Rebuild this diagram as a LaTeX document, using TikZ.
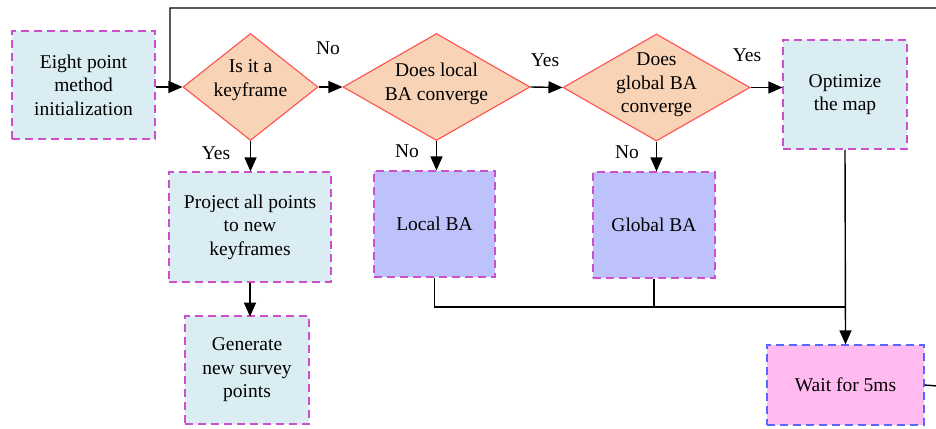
\documentclass[tikz,border=0pt]{standalone}
\usepackage{fontspec}
\setmainfont{Liberation Serif}
\usetikzlibrary{shapes.geometric,arrows.meta}
\definecolor{boxfill}{HTML}{DAEDF3}
\definecolor{magdash}{HTML}{CC4FCC}
\definecolor{diafill}{HTML}{F9D3B5}
\definecolor{diadraw}{HTML}{FF5050}
\definecolor{lavfill}{HTML}{BDC2FA}
\definecolor{pinkfill}{HTML}{FFBBF0}
\definecolor{bluedash}{HTML}{5868FF}
\begin{document}
\begin{tikzpicture}[x=1pt,y=-1pt,
  font=\fontsize{19.5}{23.5}\selectfont,
  box/.style={rectangle, draw=magdash, fill=boxfill, line width=1.2pt, dash pattern=on 8pt off 5pt, inner sep=0pt, align=center},
  bafill/.style={box, fill=lavfill},
  waitbox/.style={box, fill=pinkfill, draw=bluedash},
  dia/.style={diamond, draw=diadraw, fill=diafill, line width=1.1pt, inner sep=0pt},
  conn/.style={line width=1.4pt, black},
  arr/.style={conn, -{Triangle[length=14pt,width=12pt]}},
  lbl/.style={inner sep=0pt}
]
\useasboundingbox (0,0) rectangle (936,428);
\clip (0,0) rectangle (936,428);

% boxes
\node[box, minimum width=143, minimum height=108] (init) at (83.5,85) {Eight point\\method\\initialization};
\node[box, minimum width=162, minimum height=110] (proj) at (250,227) {Project all points\\to new\\keyframes};
\node[box, minimum width=124, minimum height=108] (gen) at (247,370) {Generate\\new survey\\points};
\node[bafill, minimum width=121, minimum height=106] (lba) at (434.5,224) {Local BA};
\node[bafill, minimum width=122, minimum height=106] (gba) at (654,225) {Global BA};
\node[box, minimum width=124, minimum height=109] (opt) at (845,94.5) {Optimize\\the map};
\node[waitbox, minimum width=157, minimum height=80] (wait) at (845.5,385) {Wait for 5ms};

% diamonds
\node[dia, minimum width=135, minimum height=107] (d1) at (250.5,87) {};
\node[align=center, inner sep=0pt] (d1t) at (250.5,80) {Is it a\\keyframe};
\node[dia, minimum width=187, minimum height=107] (d2) at (436.5,87) {};
\node[align=center, inner sep=0pt] (d2t) at (436.5,84) {Does local\\BA converge};
\node[dia, minimum width=187, minimum height=107] (d3) at (656.5,87.5) {};
\node[align=center, inner sep=0pt] (d3t) at (656.5,85) {Does\\global BA\\converge};

% labels
\node[lbl] (l1) at (328,48) {No};
\node[lbl] (l2) at (545,60) {Yes};
\node[lbl] (l3) at (747,55) {Yes};
\node[lbl] (l4) at (216,153) {Yes};
\node[lbl] (l5) at (407,151) {No};
\node[lbl] (l6) at (627,152) {No};

% connectors
\coordinate (loopin) at (170,87);
\coordinate (looptop) at (170,8);
\coordinate (rightup) at (950,8);
\coordinate (rightdown) at (950,387);
\coordinate (join) at (845,307);

\draw[arr] (init.east |- d1.west) -- (d1.west);
\draw[conn] (wait.east) -- (rightdown) -- (rightup) -- (looptop) -- (loopin);
\draw[arr] (d1.east) -- (d2.west);
\draw[arr] (d2.east) -- (d3.west);
\draw[arr] (d3.east) -- (d3.east -| opt.west);
\draw[arr] (d1.south) -- (d1.south |- proj.north);
\draw[arr] (proj.south -| gen.north) ++(3,0) -- ++(0,34);
\draw[arr] (d2.south) -- (d2.south |- lba.north);
\draw[arr] (d3.south) -- (d3.south |- gba.north);
\draw[conn] (lba.south) |- (join);
\draw[conn] (gba.south) -- (gba.south |- join);
\draw[arr] (opt.south) -- (wait.north);
\end{tikzpicture}
\end{document}
